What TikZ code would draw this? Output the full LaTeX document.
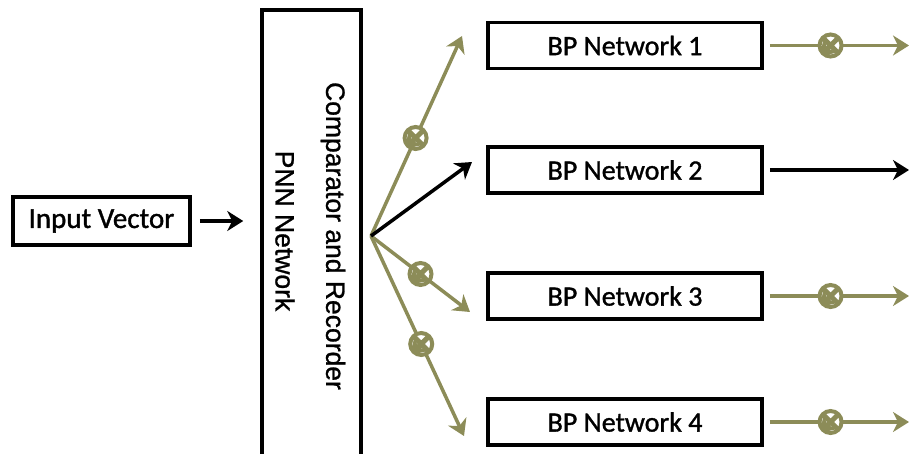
\documentclass[tikz,border=0pt]{standalone}
\usepackage{fontspec}
\setmainfont{Carlito}
\newfontfamily\boxfont{Carlito}[FakeBold=1.2]
\newfontfamily\arialfont{Liberation Sans}[FakeBold=1]
\usetikzlibrary{arrows.meta}
\definecolor{olv}{RGB}{140,140,88}
\begin{document}
\begin{tikzpicture}[x=1pt,y=-1pt,
  box/.style={draw=black, line width=3.5pt, minimum width=274pt, minimum height=46pt, inner sep=0pt, font=\boxfont\fontsize{28}{30}\selectfont},
  vlabel/.style={rotate=-90, font=\arialfont\fontsize{26.5}{28}\selectfont, inner sep=0pt},
  conn/.style={line width=3.5pt, -{Stealth[length=16pt,width=20pt,inset=5pt]}},
  oconn/.style={conn, draw=olv, color=olv},
  xmark/.style={circle, draw=olv, line width=4pt, minimum size=22pt, inner sep=0pt, fill=white,
    path picture={\draw[olv, line width=5pt]
      (path picture bounding box.north west) -- (path picture bounding box.south east)
      (path picture bounding box.north east) -- (path picture bounding box.south west);}}
]
\useasboundingbox (0,0) rectangle (909,453);
% PNN box
\node[draw, line width=3.5pt, minimum width=99pt, minimum height=480pt, inner sep=0pt] (pnn) at (311.5,250) {};
\node[vlabel] (comp) at (333,236) {Comparator and Recorder};
\node[vlabel] (pnnl) at (285,231) {PNN Network};
% input
\node[box, minimum width=177pt, minimum height=48pt, font=\boxfont\fontsize{29}{31}\selectfont] (inp) at (101.5,221) {Input Vector};
\draw[conn, shorten <=8pt, shorten >=17pt] (inp.east) -- (inp.east -| pnn.west);
% BP boxes
\node[box] (bp1) at (625,45.5) {BP Network 1};
\node[box] (bp2) at (625,170) {BP Network 2};
\node[box] (bp3) at (625,296) {BP Network 3};
\node[box] (bp4) at (625,422) {BP Network 4};
% fan
\coordinate (hub) at (371,236);
\coordinate (t1) at (462,36);
\coordinate (t2) at (472,162);
\coordinate (t3) at (470,312);
\coordinate (t4) at (464,436);
\draw[oconn] (hub) -- node[xmark, pos=0.49] (x1) {} (t1);
\draw[oconn] (hub) -- node[xmark, pos=0.5] (x3) {} (t3);
\draw[oconn] (hub) -- node[xmark, pos=0.54] (x4) {} (t4);
\draw[conn] (hub) -- (t2);
% outputs
\coordinate (o1) at (909,45.5);
\coordinate (o2) at (909,170);
\coordinate (o3) at (909,296);
\coordinate (o4) at (909,422);
\draw[oconn, shorten <=6pt] (bp1.east) -- node[xmark, pos=0.46] (y1) {} (o1);
\draw[conn, shorten <=6pt] (bp2.east) -- (o2);
\draw[oconn, shorten <=6pt] (bp3.east) -- node[xmark, pos=0.46] (y3) {} (o3);
\draw[oconn, shorten <=6pt] (bp4.east) -- node[xmark, pos=0.46] (y4) {} (o4);
\end{tikzpicture}
\end{document}
